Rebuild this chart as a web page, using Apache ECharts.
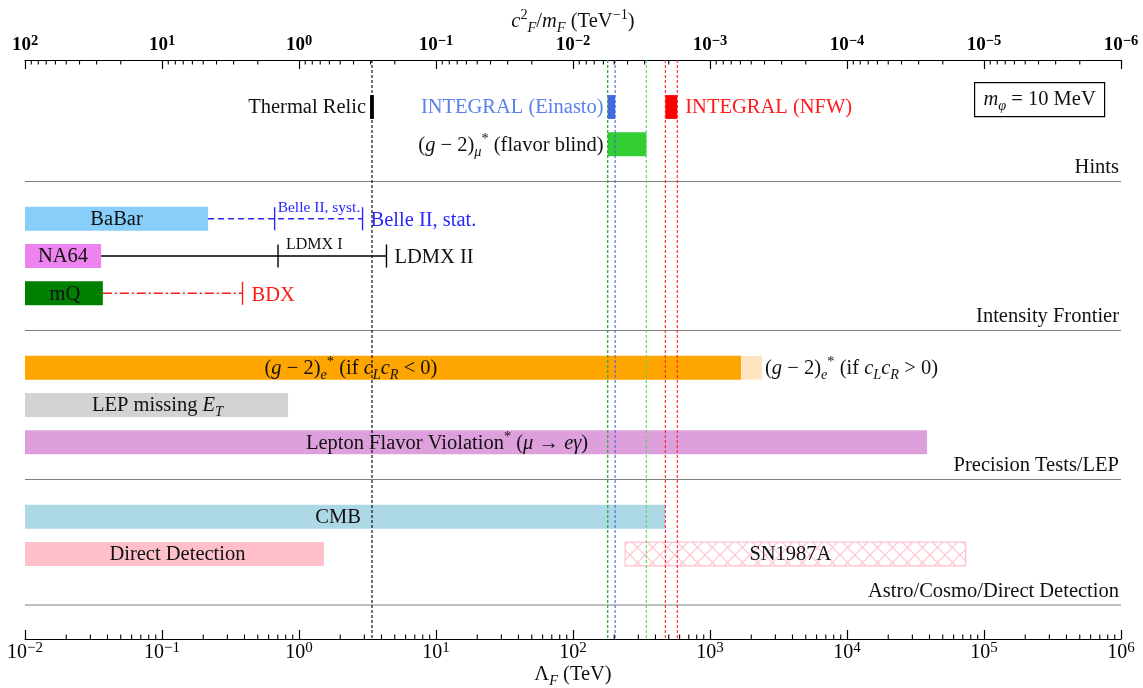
<!DOCTYPE html>
<html><head><meta charset="utf-8">
<script src="https://cdn.jsdelivr.net/npm/echarts@6/dist/echarts.min.js"></script>
<style>html,body{margin:0;padding:0;background:#fff;overflow:hidden}#chart{width:1143px;height:688px}</style>
</head><body><div id="chart"></div>
<script>
// ================= DATA =================
// Horizontal constraint bars: label, lower / upper Lambda_F (TeV), row
const barLabels = [
  'Thermal Relic',
  'INTEGRAL (Einasto)',
  'INTEGRAL (NFW)',
  '({i|g} − 2){sub|μ}{sup|*} (flavor blind)',
  'BaBar',
  'NA64',
  'mQ',
  '({i|g} − 2){sub|e}{sup|*} (if {i|c}{sub|L}{i|c}{sub|R} < 0)',
  '({i|g} − 2){sub|e}{sup|*} (if {i|c}{sub|L}{i|c}{sub|R} > 0)',
  'LEP missing {i|E}{sub|T}',
  'Lepton Flavor Violation{sup|*} ({i|μ} → {i|eγ})',
  'CMB',
  'Direct Detection',
  'SN1987A'
];
const barLow  = [3.30, 179, 472, 179, 0.01, 0.01, 0.01, 0.01, 1683, 0.01, 0.01, 0.01, 0.01, 240];
const barHigh = [3.52, 203, 577, 343, 0.217, 0.0359, 0.037, 1683, 2398, 0.832, 38400, 470, 1.52, 73500];
const barRow  = [0, 0, 0, 1, 3, 4, 5, 7, 7, 8, 9, 11, 12, 12];

// Projected sensitivities (lines with end ticks)
const projNames = ['Belle II', 'LDMX', 'BDX'];
const projStart = [0.217, 0.0359, 0.037];
const projTicks = [[0.664, 2.91], [0.703, 4.35], [0.387]];
const projTickLabels = [['Belle II, syst.', 'Belle II, stat.'], ['LDMX I', 'LDMX II'], ['BDX']];
const projRow = [3, 4, 5];

// Vertical reference lines (Lambda_F, TeV)
const refLineValues = [3.41, 179, 203, 179, 343, 472, 577];

// Section separators
const sectionNames = ['Hints', 'Intensity Frontier', 'Precision Tests/LEP', 'Astro/Cosmo/Direct Detection'];
const sectionRow = [2, 6, 10, 13.37];

// Axis ticks
const decadeExps = [-2, -1, 0, 1, 2, 3, 4, 5, 6];
const minorMultipliers = [2, 3, 4, 5, 6, 7, 8, 9];

const benchmarkText = '{i|m}{sub|φ} = 10 MeV';

// ================= STYLE =================
const F = "'Liberation Serif', 'DejaVu Serif', serif";
const FS = 20.5;
const BAR_HALF = 0.32;
const TICK_HALF = 0.31;
const X_MIN = 1e-2, X_MAX = 1e6;

const barStyle = [
  {fill: '#000000', pos: 'left', dx: -4, text: '#111'},
  {fill: '#4169E1', pos: 'left', dx: -4, text: '#5b80ea'},
  {fill: '#FF0000', pos: 'right', dx: 8, text: '#ff1a1a'},
  {fill: '#32CD32', pos: 'left', dx: -4, text: '#111'},
  {fill: '#87CEFA', pos: 'inside', dx: 0, text: '#111'},
  {fill: '#EE82EE', pos: 'inside', dx: 0, text: '#111'},
  {fill: '#008000', pos: 'inside', dx: 1, text: '#111'},
  {fill: '#FFA500', pos: 'inside', dx: -32, text: '#111'},
  {fill: '#FFE4C4', pos: 'right', dx: 3, text: '#111'},
  {fill: '#D3D3D3', pos: 'inside', dx: 1, text: '#111'},
  {fill: '#DDA0DD', pos: 'inside', dx: -29, text: '#111'},
  {fill: '#ADD8E6', pos: 'inside', dx: -7, text: '#111'},
  {fill: '#FFC0CB', pos: 'inside', dx: 3, text: '#111'},
  {fill: 'hatch', pos: 'inside', dx: -5, text: '#111'}
];
const projStyle = [
  {color: '#2828ff', dash: [6, 4], gap: 8, smallGap: 3, smallSize: 15.5, smallDy: -1},
  {color: '#000000', dash: null, gap: 8, smallGap: 8, smallSize: 16, smallDy: -1},
  {color: '#ff1a1a', dash: [9, 3, 2, 3], gap: 9, smallGap: 8, smallSize: 16, smallDy: -1}
];
const refLineColors = ['#000000', '#4169E1', '#4169E1', '#2fb52f', '#4fdc4f', '#ff2020', '#ff2020'];

function makeRich(size, color) {
  const L = Math.round(size * 1.3);
  const s = size * 0.7;
  return {
    i: {fontFamily: F, fontSize: size, fontStyle: 'italic', fill: color, color: color, lineHeight: L},
    sub: {fontFamily: F, fontSize: s, fontStyle: 'italic', fill: color, color: color, lineHeight: L - 9, verticalAlign: 'bottom'},
    sup: {fontFamily: F, fontSize: s, fill: color, color: color, lineHeight: s, verticalAlign: 'top'},
    r: {fontFamily: F, fontSize: size, fill: color, color: color, lineHeight: L}
  };
}
function textEl(x, y, str, size, color, align, valign) {
  return {
    type: 'text', x: x, y: y, z2: 10,
    style: {
      text: str, fontFamily: F, fontSize: size, fill: color,
      lineHeight: Math.round(size * 1.3),
      align: align, verticalAlign: valign, rich: makeRich(size, color)
    }
  };
}

// hatch pattern
const hatch = document.createElement('canvas');
hatch.width = 15; hatch.height = 15;
(function () {
  const c = hatch.getContext('2d');
  c.strokeStyle = '#FFC0CB'; c.lineWidth = 1.1;
  c.beginPath();
  c.moveTo(0, 0); c.lineTo(15, 15);
  c.moveTo(15, 0); c.lineTo(0, 15);
  c.stroke();
})();

function expStr(v) {
  const e = Math.round(Math.log10(v));
  return e < 0 ? '−' + (-e) : String(e);
}

// minor tick values
const bottomMinor = [];
const topMinor = [];
decadeExps.slice(0, -1).forEach(function (e) {
  minorMultipliers.forEach(function (m) {
    bottomMinor.push([m * Math.pow(10, e)]);
    topMinor.push([m * Math.pow(10, -e - 1)]);
  });
});

const chart = echarts.init(document.getElementById('chart'));

function minorTickSeries(axisIdx, data, atTop) {
  return {
    type: 'custom', xAxisIndex: axisIdx, yAxisIndex: 0, z: 6, silent: true,
    data: data.map(function (d) { return [d[0], 0]; }),
    renderItem: function (params, api) {
      const cs = params.coordSys;
      const x = api.coord([api.value(0), 0])[0];
      const y0 = atTop ? cs.y : cs.y + cs.height;
      const y1 = atTop ? y0 + 4.5 : y0 - 4.5;
      return {type: 'line', shape: {x1: x, y1: y0, x2: x, y2: y1}, style: {stroke: '#000', lineWidth: 1.1}};
    }
  };
}

const axisCommon = {
  type: 'log', logBase: 10, splitNumber: 8,
  splitLine: {show: false},
  axisLine: {show: true, onZero: false, lineStyle: {color: '#000', width: 1.2}},
  axisTick: {show: true, inside: true, length: 9, lineStyle: {color: '#000', width: 1.2}},
  nameLocation: 'middle',
  nameMoveOverlap: false
};

const option = {
  animation: false,
  backgroundColor: '#ffffff',
  grid: {left: 25, top: 60, width: 1096, height: 579, containLabel: false, outerBoundsMode: 'none'},
  xAxis: [
    Object.assign({}, axisCommon, {
      position: 'bottom', min: X_MIN, max: X_MAX,
      name: 'Λ{sub|F} (TeV)', nameGap: 22,
      nameTextStyle: {fontFamily: F, fontSize: FS, color: '#111', lineHeight: 27, rich: makeRich(FS, '#111')},
      axisLabel: {
        margin: 2,
        formatter: function (v) { return '{b|10}{e|' + expStr(v) + '}'; },
        rich: {
          b: {fontFamily: F, fontSize: 20, color: '#000', lineHeight: 23},
          e: {fontFamily: F, fontSize: 15, color: '#000', lineHeight: 14, verticalAlign: 'top'}
        }
      }
    }),
    Object.assign({}, axisCommon, {
      position: 'top', min: 1e-6, max: 1e2, inverse: true,
      name: '{i|c}{sup|2}{sub|F}/{i|m}{sub|F} (TeV{sup|−1})', nameGap: 25,
      nameTextStyle: {fontFamily: F, fontSize: FS, color: '#111', lineHeight: 27, rich: makeRich(FS, '#111')},
      axisLabel: {
        margin: 3,
        formatter: function (v) { return '{b|10}{e|' + expStr(v) + '}'; },
        rich: {
          b: {fontFamily: F, fontSize: 19, fontWeight: 'bold', color: '#000', lineHeight: 23},
          e: {fontFamily: F, fontSize: 14.5, fontWeight: 'bold', color: '#000', lineHeight: 14, verticalAlign: 'top'}
        }
      }
    })
  ],
  yAxis: {type: 'value', min: -1.262, max: 14.282, inverse: true, show: false},
  graphic: [{
    type: 'group', left: 974, top: 82, z: 20,
    children: [
      {type: 'rect', shape: {x: 0, y: 0, width: 130, height: 34}, style: {fill: '#fff', stroke: '#000', lineWidth: 1.2}},
      {type: 'text', x: 65, y: 17, style: {text: benchmarkText, fontFamily: F, fontSize: FS, fill: '#111', lineHeight: 27,
        align: 'center', verticalAlign: 'middle', rich: makeRich(FS, '#111')}}
    ]
  }],
  series: [
    // section separators
    {
      type: 'custom', name: 'sections', z: 1, silent: true,
      data: sectionRow.map(function (r, i) { return [X_MIN, r, i]; }),
      renderItem: function (params, api) {
        const cs = params.coordSys;
        const y = api.coord([X_MIN, api.value(1)])[1];
        const i = api.value(2);
        return {type: 'group', children: [
          {type: 'line', shape: {x1: cs.x, y1: y, x2: cs.x + cs.width, y2: y}, style: {stroke: '#808080', lineWidth: 1.1}},
          textEl(cs.x + cs.width - 2, y, sectionNames[i], FS, '#111', 'right', 'bottom')
        ]};
      }
    },
    // bars
    {
      type: 'custom', name: 'bars', z: 2, silent: true,
      data: barLow.map(function (lo, i) { return [lo, barHigh[i], barRow[i], i]; }),
      encode: {x: [0, 1], y: 2},
      renderItem: function (params, api) {
        const i = api.value(3);
        const row = api.value(2);
        const a = api.coord([api.value(0), row - BAR_HALF]);
        const b = api.coord([api.value(1), row + BAR_HALF]);
        const st = barStyle[i];
        const rectStyle = st.fill === 'hatch'
          ? {fill: {image: hatch, repeat: 'repeat'}, stroke: '#FFC0CB', lineWidth: 1.2}
          : {fill: st.fill};
        const cy = (a[1] + b[1]) / 2;
        let tx, align;
        if (st.pos === 'left') { tx = a[0] + st.dx; align = 'right'; }
        else if (st.pos === 'right') { tx = b[0] + st.dx; align = 'left'; }
        else { tx = (a[0] + b[0]) / 2 + st.dx; align = 'center'; }
        return {type: 'group', children: [
          {type: 'rect', shape: {x: a[0], y: a[1], width: b[0] - a[0], height: b[1] - a[1]}, style: rectStyle},
          textEl(tx, cy + 1, barLabels[i], FS, st.text, align, 'middle')
        ]};
      }
    },
    // projections
    {
      type: 'custom', name: 'projections', z: 3, silent: true,
      data: projStart.map(function (s, k) { return [s, projTicks[k][projTicks[k].length - 1], projRow[k], k]; }),
      encode: {x: [0, 1], y: 2},
      renderItem: function (params, api) {
        const k = api.value(3);
        const row = api.value(2);
        const st = projStyle[k];
        const p0 = api.coord([api.value(0), row]);
        const p1 = api.coord([api.value(1), row]);
        const ls = {stroke: st.color, lineWidth: 1.3};
        if (st.dash) ls.lineDash = st.dash;
        const children = [{type: 'line', shape: {x1: p0[0], y1: p0[1], x2: p1[0], y2: p1[1]}, style: ls}];
        const tc = st.color === '#000000' ? '#111' : st.color;
        projTicks[k].forEach(function (t, j) {
          const tt = api.coord([t, row - TICK_HALF]);
          const tb = api.coord([t, row + TICK_HALF]);
          children.push({type: 'line', shape: {x1: tt[0], y1: tt[1], x2: tb[0], y2: tb[1]}, style: {stroke: st.color, lineWidth: 1.4}});
          if (j === projTicks[k].length - 1) {
            children.push(textEl(tt[0] + st.gap, p0[1] + 2, projTickLabels[k][j], FS, tc, 'left', 'middle'));
          } else {
            children.push(textEl(tt[0] + st.smallGap, p0[1] + st.smallDy, projTickLabels[k][j], st.smallSize, tc, 'left', 'bottom'));
          }
        });
        return {type: 'group', children: children};
      }
    },
    // vertical reference lines
    {
      type: 'custom', name: 'reference', z: 5, silent: true,
      data: refLineValues.map(function (v, i) { return [v, 0, i]; }),
      renderItem: function (params, api) {
        const cs = params.coordSys;
        const x = api.coord([api.value(0), 0])[0];
        return {type: 'line', shape: {x1: x, y1: cs.y, x2: x, y2: cs.y + cs.height},
          style: {stroke: refLineColors[api.value(2)], lineWidth: 1.1, lineDash: [3, 2]}};
      }
    },
    minorTickSeries(0, bottomMinor, false),
    minorTickSeries(1, topMinor, true)
  ]
};
chart.setOption(option);
</script>
</body></html>
